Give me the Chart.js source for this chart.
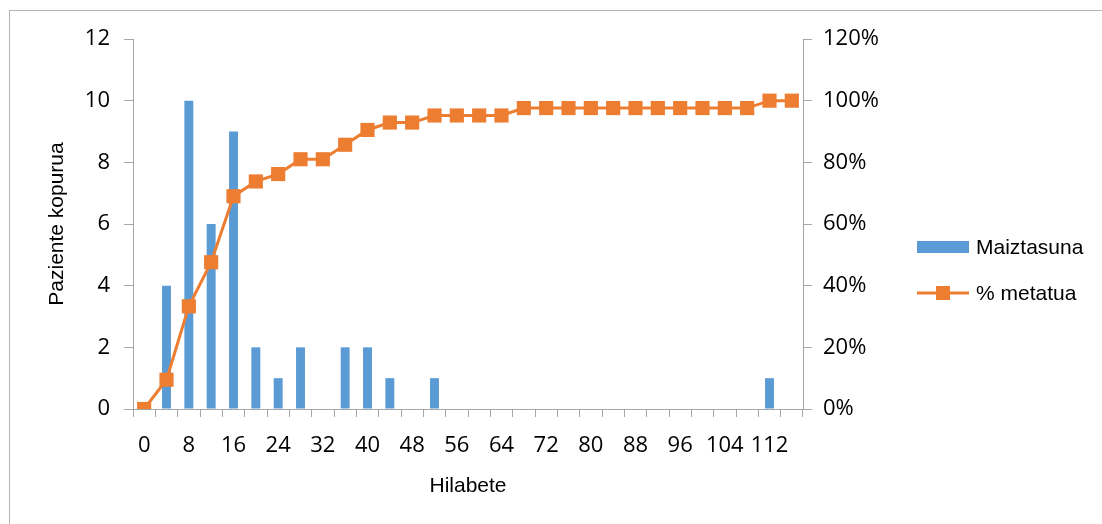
<!DOCTYPE html>
<html>
<head>
<meta charset="utf-8">
<script src="https://cdn.jsdelivr.net/npm/chart.js@4.4.1/dist/chart.umd.min.js"></script>
<style>
  html, body { margin: 0; padding: 0; background: #fff; }
  #frame { position: absolute; left: 9px; top: 10px; width: 1200px; height: 600px;
           border-left: 1.5px solid #b4b4b4; border-top: 1.5px solid #b4b4b4; }
  #myChart { position: absolute; left: 0; top: 0; }
  #legend { position: absolute; left: 917px; top: 229px; font-family: "Liberation Sans", Arial, sans-serif;
            font-size: 21px; color: #000; }
  .item { height: 36px; display: flex; align-items: center; margin-bottom: 10px; white-space: nowrap; }
  .item canvas { margin-right: 7px; }
</style>
</head>
<body>
<div id="frame"></div>
<canvas id="myChart" width="1102" height="524"></canvas>
<div id="legend"></div>
<script>
// months, every 4
let months = [0,4,8,12,16,20,24,28,32,36,40,44,48,52,56,60,64,68,72,76,80,84,88,92,96,100,104,108,112,116];
// number of patients (Maiztasuna)
let freq = [0,4,10,6,9,2,1,2,0,2,2,1,0,1,0,0,0,0,0,0,0,0,0,0,0,0,0,0,1,0];
// cumulative percent (% metatua)
let cumPct = [0,9.5,33.3,47.6,69.0,73.8,76.2,81.0,81.0,85.7,90.5,92.9,92.9,95.2,95.2,95.2,95.2,
  97.6,97.6,97.6,97.6,97.6,97.6,97.6,97.6,97.6,97.6,97.6,100,100];
let leftTicks = [0,2,4,6,8,10,12];
let rightTicks = [0,20,40,60,80,100,120];

let blueColor = '#5b9bd5';
let orangeColor = '#ed7d31';
let axisColor = '#a6a6a6';
let tickFont = { family: '"Open Sans", "Noto Sans", sans-serif', size: 22 };
let titleFont = { family: '"Liberation Sans", Arial, sans-serif', size: 21 };

// legend symbols
function barSymbol() {
  let c = document.createElement('canvas');
  c.width = 52; c.height = 16;
  let g = c.getContext('2d');
  g.fillStyle = blueColor;
  g.fillRect(0, 2, 52, 12);
  return c;
}
function lineSymbol() {
  let c = document.createElement('canvas');
  c.width = 52; c.height = 16;
  let g = c.getContext('2d');
  g.strokeStyle = orangeColor;
  g.lineWidth = 3;
  g.beginPath(); g.moveTo(0, 8); g.lineTo(52, 8); g.stroke();
  g.fillStyle = orangeColor;
  g.fillRect(19, 1, 14, 14);
  return c;
}

function createLegend(datasets) {
  let legend = document.getElementById('legend');
  for (var i = 0; i < datasets.length; i++) {
    let item = document.createElement('div');
    item.className = 'item';
    item.appendChild(datasets[i].legendSymbol);
    let text = document.createElement('span');
    text.textContent = datasets[i].label;
    item.appendChild(text);
    legend.appendChild(item);
  }
}

let ctx = document.getElementById('myChart').getContext('2d');
let chart = new Chart(ctx, {
  type: 'bar',
  data: {
    labels: months,
    datasets: [
      {
        type: 'bar',
        label: 'Maiztasuna',
        data: freq,
        yAxisID: 'y',
        backgroundColor: blueColor,
        barPercentage: 0.4,
        categoryPercentage: 1.0,
        order: 1,
        legendSymbol: barSymbol()
      },
      {
        type: 'line',
        label: '% metatua',
        data: cumPct,
        yAxisID: 'y1',
        borderColor: orangeColor,
        backgroundColor: orangeColor,
        borderWidth: 3,
        pointStyle: 'rect',
        pointRadius: 10,
        pointHoverRadius: 10,
        pointBorderWidth: 0,
        order: 0,
        legendSymbol: lineSymbol()
      }
    ]
  },
  options: {
    responsive: false,
    animation: false,
    layout: { padding: { left: 0, top: 39, right: 210, bottom: 23 } },
    plugins: {
      tooltip: { enabled: false },
      legend: { display: false }
    },
    scales: {
      x: {
        grid: { display: true, drawOnChartArea: false, drawTicks: true, tickLength: 8, color: axisColor, offset: true },
        border: { display: true, color: axisColor },
        ticks: {
          autoSkip: false, maxRotation: 0, color: '#000', font: tickFont, padding: 16,
          callback: function(v, i) { return i % 2 === 0 ? String(months[i]) : ''; }
        },
        title: { display: true, text: 'Hilabete', color: '#000', font: titleFont, padding: { top: 0, bottom: 2 } },
        afterFit: function(s) { s.height = 92; }
      },
      y: {
        position: 'left',
        min: 0, max: 12,
        afterBuildTicks: function(s) { s.ticks = leftTicks.map(function(v) { return { value: v }; }); },
        grid: { display: true, drawOnChartArea: false, drawTicks: true, tickLength: 9, color: axisColor },
        border: { display: true, color: axisColor },
        ticks: { color: '#000', font: tickFont, padding: 14 },
        title: { display: true, text: 'Paziente kopurua', color: '#000', font: titleFont, padding: { top: 45, bottom: 0 } },
        afterFit: function(s) { s.width = 133; }
      },
      y1: {
        position: 'right',
        min: 0, max: 120,
        afterBuildTicks: function(s) { s.ticks = rightTicks.map(function(v) { return { value: v }; }); },
        grid: { display: true, drawOnChartArea: false, drawTicks: true, tickLength: 9, color: axisColor },
        border: { display: true, color: axisColor },
        ticks: { color: '#000', font: tickFont, padding: 11, callback: function(v) { return v + '%'; } },
        afterFit: function(s) { s.width = 89; }
      }
    }
  }
});

createLegend(chart.data.datasets);
</script>
</body>
</html>
